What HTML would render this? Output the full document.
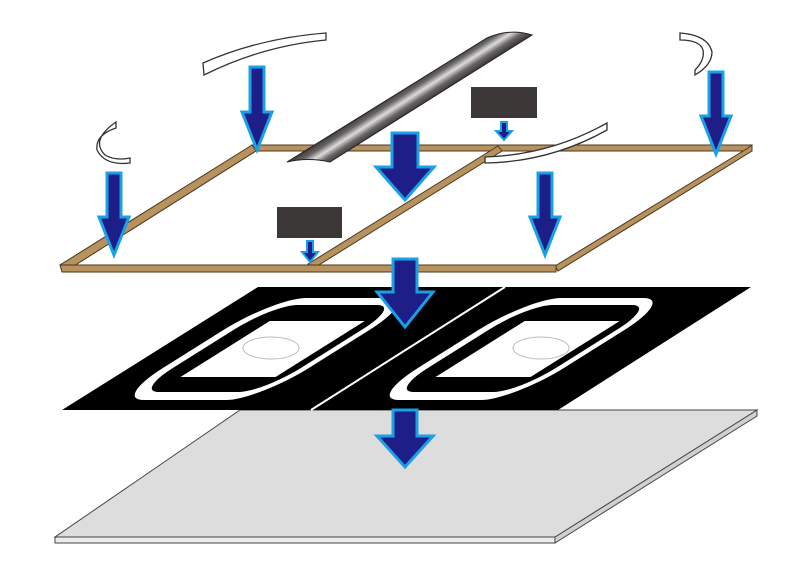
<!DOCTYPE html>
<html><head><style>html,body{margin:0;padding:0;background:#fff}svg{display:block}</style></head>
<body>
<svg width="800" height="563" viewBox="0 0 800 563" xmlns="http://www.w3.org/2000/svg">
<defs>
<linearGradient id="cyl" x1="401" y1="86" x2="417" y2="111" gradientUnits="userSpaceOnUse">
<stop offset="0" stop-color="#2a2626"/><stop offset="0.3" stop-color="#6a6666"/><stop offset="0.5" stop-color="#dcdcdc"/><stop offset="0.7" stop-color="#6a6666"/><stop offset="1" stop-color="#2a2626"/>
</linearGradient>
</defs>

<!-- gray board -->
<polygon points="55,537 555,537 555,543 55,543" fill="#ececec" stroke="#444" stroke-width="1"/>
<polygon points="555,537 757,410 757,416 555,543" fill="#d0d0d0" stroke="#444" stroke-width="1"/>
<polygon points="240,410 757,410 555,537 55,537" fill="#dcdddc" stroke="#444" stroke-width="1"/>

<!-- black coil layer -->
<polygon points="258,287 751,287 558,410 62,410" fill="#000"/>
<g transform="matrix(1,0,-1.593,1,653.1,0)">
  <rect x="96" y="298" width="146" height="102" rx="32" fill="#fff"/>
  <rect x="106" y="305" width="128" height="87" rx="24" fill="#000"/>
  <rect x="128" y="321" width="95" height="56" fill="#fff"/>
  <rect x="351" y="298" width="146" height="102" rx="32" fill="#fff"/>
  <rect x="361" y="305" width="128" height="87" rx="24" fill="#000"/>
  <rect x="383" y="321" width="95" height="56" fill="#fff"/>
</g>
<line x1="505" y1="287" x2="311" y2="410" stroke="#fff" stroke-width="2"/>
<ellipse cx="271" cy="348" rx="28" ry="11" fill="none" stroke="#bbb" stroke-width="1"/>
<ellipse cx="541" cy="348" rx="28" ry="11" fill="none" stroke="#bbb" stroke-width="1"/>

<!-- frame -->
<g stroke="#4a3820" stroke-width="1" fill="#b8925e">
<polygon points="252,145 752,145 752,151 256,151"/>
<polygon points="252,145 256,151 66,271 60,265"/>
<polygon points="498,146 502,151 314,268 308,264"/>
<polygon points="748,148 752,145 752,151 558,271 555,266"/>
<polygon points="60,265 556,265 556,272 62,272"/>
</g>

<!-- curved strips -->
<path d="M203,63 Q260,38 326,33 L326,40 Q262,46 204,75 Z" fill="#fff" stroke="#333" stroke-width="1.3"/>
<path d="M116,122 Q90,140 105,155 Q115,161 130,158 L130,163 Q105,166 97,150 Q95,135 116,128 Z" fill="#fff" stroke="#333" stroke-width="1.3"/>
<path d="M680,33 Q708,35 712,52 Q712,65 695,75 L695,70 Q705,60 703,50 Q700,40 680,40 Z" fill="#fff" stroke="#333" stroke-width="1.3"/>
<path d="M485,157 Q550,155 607,123 L607,130 Q550,162 485,163 Z" fill="#fff" stroke="#333" stroke-width="1.3"/>

<!-- cylinder -->
<path d="M287,162 L487,38 Q510,28 532,35 L330,162 Q308,157 287,162 Z" fill="url(#cyl)" stroke="#222" stroke-width="1"/>

<!-- dark rects -->
<rect x="471" y="87" width="66" height="31" fill="#3c3838"/>
<rect x="277" y="207" width="65" height="31" fill="#3c3838"/>

<!-- small arrows -->
<path d="M501,122 H507 V131 H512 L504,140 L496,131 H501 Z" fill="#1e1e88" stroke="#1aa0e6" stroke-width="2"/>
<path d="M307,241 H313 V252 H318 L310,262 L302,252 H307 Z" fill="#1e1e88" stroke="#1aa0e6" stroke-width="2"/>

<!-- big arrows -->
<path d="M250,67 H264 V112 H272 L257,150 L242,112 H250 Z" fill="#1e1e88" stroke="#1aa0e6" stroke-width="3"/>
<path d="M107,173 H121 V217 H129 L114,255 L99,217 H107 Z" fill="#1e1e88" stroke="#1aa0e6" stroke-width="3"/>
<path d="M538,173 H552 V217 H560 L545,255 L530,217 H538 Z" fill="#1e1e88" stroke="#1aa0e6" stroke-width="3"/>
<path d="M709,72 H723 V116 H731 L716,154 L701,116 H709 Z" fill="#1e1e88" stroke="#1aa0e6" stroke-width="3"/>
<path d="M392,133 H418 V167 H434 L405,200 L376,167 H392 Z" fill="#1e1e88" stroke="#1aa0e6" stroke-width="3"/>
<path d="M393,259 H417 V292 H433 L405,327 L377,292 H393 Z" fill="#1e1e88" stroke="#1aa0e6" stroke-width="3"/>
<path d="M393,410 H417 V436 H433 L405,467 L377,436 H393 Z" fill="#1e1e88" stroke="#1aa0e6" stroke-width="3"/>
</svg>
</body></html>
